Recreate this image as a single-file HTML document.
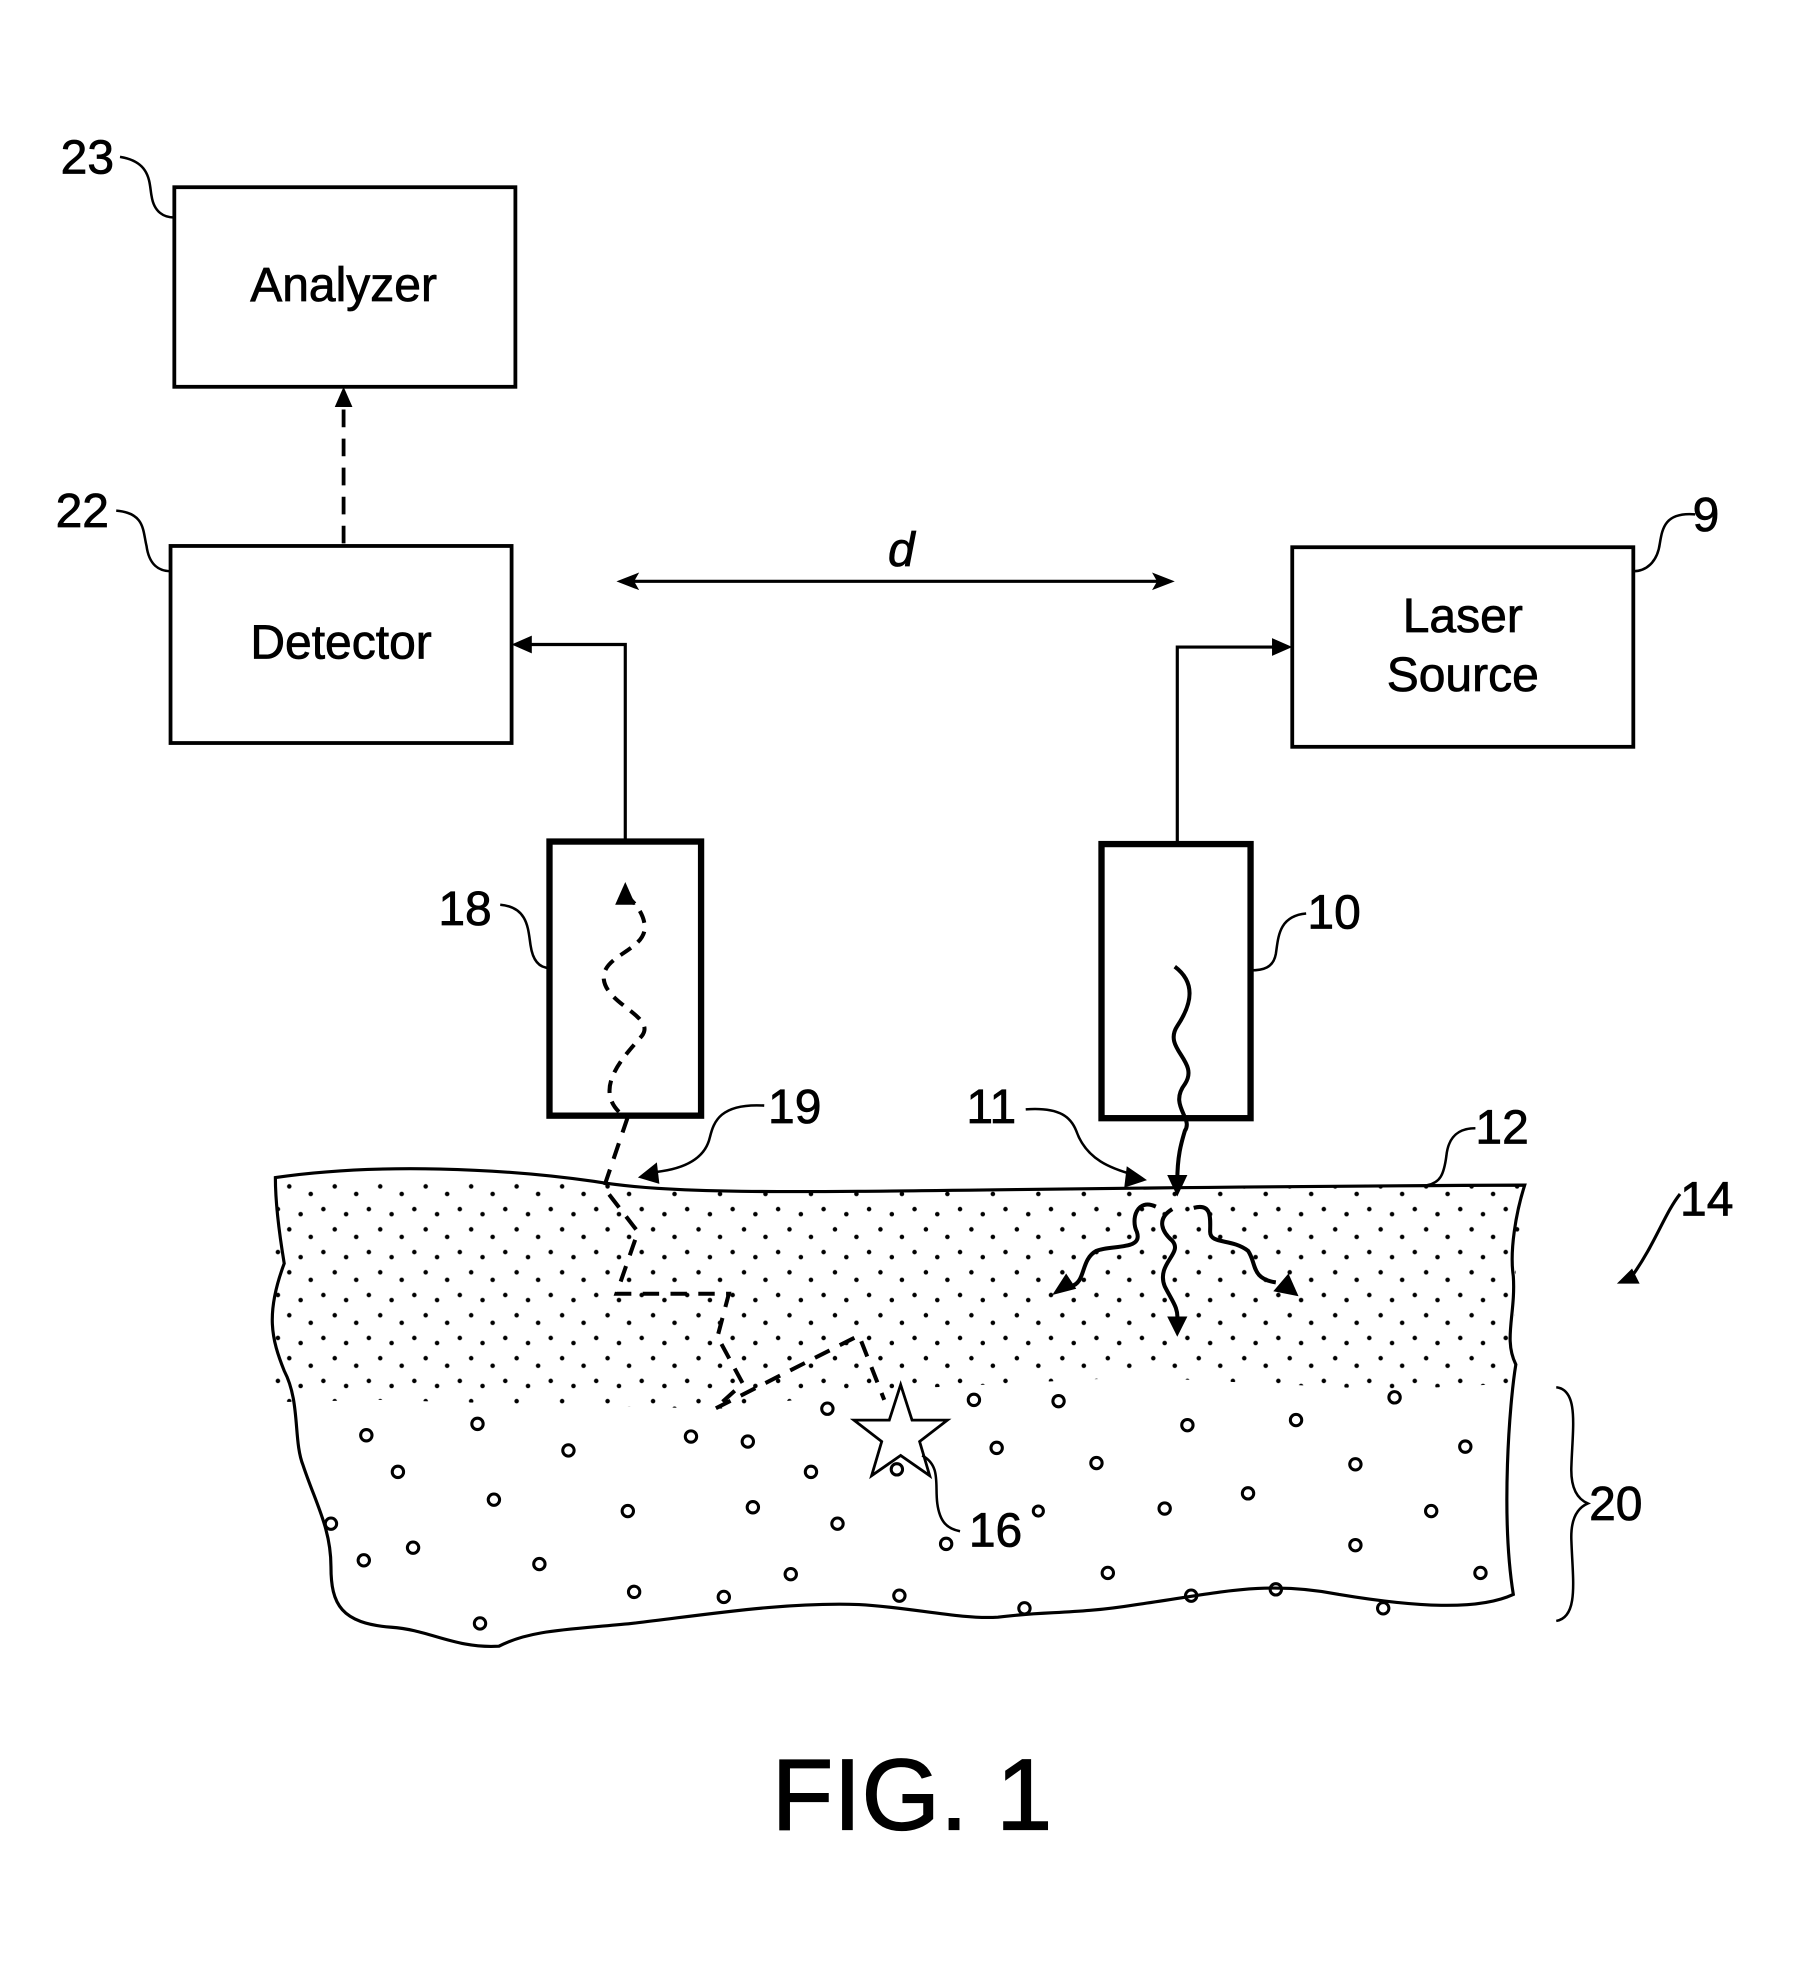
<!DOCTYPE html>
<html><head><meta charset="utf-8"><style>
html,body{margin:0;padding:0;background:#fff;}
svg{display:block;}
text{font-family:"Liberation Sans",Arial,sans-serif;fill:#000;stroke:#000;stroke-width:0.6;}
</style></head><body>
<svg width="1819" height="1961" viewBox="0 0 1440 1552" xmlns="http://www.w3.org/2000/svg">
<defs>
<pattern id="dots" x="0" y="0" width="36" height="34" patternUnits="userSpaceOnUse">
<circle cx="4" cy="5" r="1.8" fill="#000"/><circle cx="22" cy="9" r="1.8" fill="#000"/>
<circle cx="13" cy="21" r="1.8" fill="#000"/><circle cx="30" cy="27" r="1.8" fill="#000"/>
</pattern>
<clipPath id="stip"><path d="M218,932 C300,920 400,925 470,935 C560,950 700,940 1207,938 L1200,1000 L1198,1095 L1100,1100 L900,1090 L700,1100 L570,1115 L440,1112 L300,1108 L212,1110 Z"/></clipPath>
</defs>
<g fill="none" stroke="#000" stroke-width="3">
<rect x="138" y="148" width="270" height="158"/>
<rect x="135" y="432" width="270" height="156"/>
<rect x="1023" y="433" width="270" height="158"/>
<rect x="435" y="666" width="120" height="217" stroke-width="5"/>
<rect x="872" y="668" width="118" height="217" stroke-width="5"/>
<path d="M272,430 L272,318" stroke-dasharray="14,9"/>
<path d="M495,666 L495,510 L415,510" stroke-width="2.5"/>
<path d="M932,668 L932,512 L1013,512" stroke-width="2.5"/>
<path d="M498,460 L920,460" stroke-width="2.5"/>
<path d="M95,124 C120,128 118,145 120,155 C122,168 130,172 138,172" stroke-width="2"/>
<path d="M92,404 C115,406 113,420 116,432 C118,447 126,452 135,452" stroke-width="2"/>
<path d="M1342,407 C1318,405 1316,418 1314,430 C1312,445 1303,452 1293,452" stroke-width="2"/>
<path d="M396,716 C418,718 418,735 420,748 C422,762 428,766 435,766" stroke-width="2"/>
<path d="M1034,723 C1012,725 1012,742 1010,755 C1008,766 1000,768 990,768" stroke-width="2"/>
<path d="M605,875 C570,873 565,888 562,900 C558,918 540,926 515,928" stroke-width="2"/>
<path d="M812,878 C840,876 848,885 852,895 C860,918 880,925 898,930" stroke-width="2"/>
<path d="M1168,893 C1150,893 1146,905 1145,915 C1143,930 1140,936 1130,938" stroke-width="2"/>
<path d="M1330,945 C1318,960 1310,985 1292,1010" stroke-width="2.5"/>
<path d="M1232,1098 C1250,1100 1245,1130 1244,1160 C1243,1180 1250,1187 1257,1190 C1250,1193 1243,1200 1244,1220 C1245,1250 1250,1280 1232,1283" stroke-width="2"/>
<path d="M730,1152 C745,1160 740,1175 742,1190 C744,1205 750,1210 760,1212" stroke-width="2"/>
<path d="M218,932 C300,920 400,925 470,935 C560,950 700,940 1207,938 C1200,960 1195,990 1198,1010 C1200,1040 1190,1060 1200,1080 C1195,1110 1188,1200 1198,1262 C1170,1275 1120,1272 1060,1262 C1000,1250 960,1262 900,1270 C850,1278 830,1275 790,1280 C760,1282 720,1272 680,1270 C620,1268 560,1278 500,1285 C450,1290 420,1290 395,1303 C360,1305 340,1290 310,1288 C270,1285 262,1270 262,1240 C262,1210 250,1190 240,1160 C232,1140 238,1110 225,1085 C215,1060 210,1040 225,1000 C220,970 218,950 218,932 Z" stroke-width="2.5"/>
<path d="M497,884 L478,940 L505,975 L488,1024 L577,1024 L568,1058 L588,1095 L566,1115 L680,1057 L700,1108" stroke-width="3.2" stroke-dasharray="13,9"/>
<path d="M490,880 C470,860 495,835 508,820 C520,805 480,795 478,775 C476,755 515,752 510,730 C508,720 500,712 495,708" stroke-width="3.2" stroke-dasharray="10,7"/>
<path d="M930,765 C950,780 940,800 932,812 C920,830 950,840 938,858 C925,875 945,885 938,895 C935,905 932,915 932,935" stroke-width="3.2"/>
<path d="M915,955 C900,948 895,965 900,975 C905,990 880,985 868,990 C855,997 860,1015 848,1018" stroke-width="3.2"/>
<path d="M928,957 C915,965 920,975 928,982 C937,992 915,1000 922,1018 C928,1030 933,1035 932,1045" stroke-width="3.2"/>
<path d="M945,956 C960,952 958,965 958,975 C958,985 975,980 988,990 C995,1000 990,1012 1010,1015" stroke-width="3.2"/>
<path d="M713,1096 L722,1124 L750,1124 L728,1141 L736,1168 L713,1152 L690,1168 L698,1141 L676,1124 L704,1124 Z" stroke-width="2.2"/>
</g>
<g fill="#000">
<polygon points="272,306 265,322 279,322"/>
<polygon points="405,510 421,503 421,517"/>
<polygon points="1023,512 1007,505 1007,519"/>
<polygon points="488,460 506,453 502,460 506,467"/>
<polygon points="930,460 912,453 916,460 912,467"/>
<polygon points="495,698 487,716 503,716"/>
<polygon points="932,947 924,930 940,930"/>
<polygon points="833,1025 844,1008 852,1020"/>
<polygon points="932,1058 924,1042 940,1042"/>
<polygon points="1028,1026 1008,1022 1020,1008"/>
<polygon points="505,932 520,920 522,937"/>
<polygon points="908,934 892,923 890,940"/>
<polygon points="1280,1016 1292,1004 1298,1016"/>
</g>
<rect x="212" y="930" width="1000" height="190" fill="url(#dots)" clip-path="url(#stip)"/>
<g fill="none" stroke="#000" stroke-width="2.4">
<circle cx="290" cy="1136" r="4.5"/><circle cx="378" cy="1127" r="4.5"/><circle cx="450" cy="1148" r="4.5"/><circle cx="547" cy="1137" r="4.5"/><circle cx="592" cy="1141" r="4.5"/><circle cx="655" cy="1115" r="4.5"/><circle cx="771" cy="1108" r="4.5"/><circle cx="838" cy="1109" r="4.5"/><circle cx="1104" cy="1106" r="4.5"/>
<circle cx="315" cy="1165" r="4.5"/><circle cx="642" cy="1165" r="4.5"/><circle cx="710" cy="1163" r="4.5"/><circle cx="789" cy="1146" r="4.5"/><circle cx="868" cy="1158" r="4.5"/><circle cx="940" cy="1128" r="4.5"/><circle cx="1026" cy="1124" r="4.5"/><circle cx="1073" cy="1159" r="4.5"/><circle cx="1160" cy="1145" r="4.5"/>
<circle cx="391" cy="1187" r="4.5"/><circle cx="497" cy="1196" r="4.5"/><circle cx="596" cy="1193" r="4.5"/><circle cx="663" cy="1206" r="4.5"/><circle cx="922" cy="1194" r="4.5"/><circle cx="988" cy="1182" r="4.5"/><circle cx="1133" cy="1196" r="4.5"/>
<circle cx="262" cy="1206" r="4.5"/><circle cx="288" cy="1235" r="4.5"/><circle cx="327" cy="1225" r="4.5"/><circle cx="427" cy="1238" r="4.5"/><circle cx="749" cy="1222" r="4.5"/><circle cx="1073" cy="1223" r="4.5"/>
<circle cx="502" cy="1260" r="4.5"/><circle cx="573" cy="1264" r="4.5"/><circle cx="626" cy="1246" r="4.5"/><circle cx="712" cy="1263" r="4.5"/><circle cx="877" cy="1245" r="4.5"/><circle cx="943" cy="1263" r="4.5"/><circle cx="1010" cy="1258" r="4.5"/><circle cx="1172" cy="1245" r="4.5"/>
<circle cx="380" cy="1285" r="4.5"/><circle cx="811" cy="1273" r="4.5"/><circle cx="1095" cy="1273" r="4.5"/><circle cx="822" cy="1196" r="4"/>
</g>
<g font-size="38">
<text x="272" y="238" text-anchor="middle">Analyzer</text>
<text x="270" y="521" text-anchor="middle">Detector</text>
<text x="1158" y="500" text-anchor="middle">Laser</text>
<text x="1158" y="547" text-anchor="middle">Source</text>
<text x="48" y="137">23</text>
<text x="44" y="417">22</text>
<text x="1340" y="420">9</text>
<text x="347" y="732">18</text>
<text x="1035" y="735">10</text>
<text x="608" y="889">19</text>
<text x="765" y="889">11</text>
<text x="1168" y="905">12</text>
<text x="1330" y="962">14</text>
<text x="1258" y="1203">20</text>
<text x="767" y="1224">16</text>
<text x="703" y="448" font-style="italic">d</text>
</g>
<text x="722" y="1448" font-size="80" text-anchor="middle" style="stroke-width:1">FIG. 1</text>
</svg>
</body></html>
